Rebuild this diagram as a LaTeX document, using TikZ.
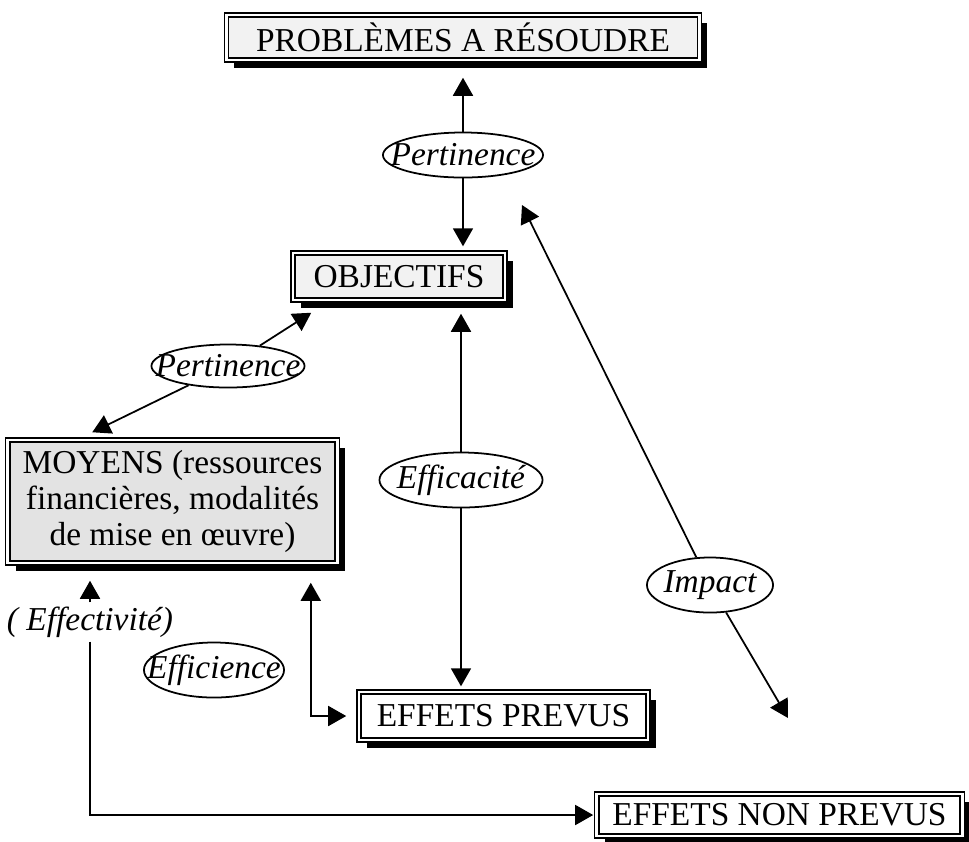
\documentclass[tikz,border=0pt]{standalone}
\usepackage{fontspec}
\setmainfont{Liberation Serif}
\usetikzlibrary{shapes.geometric,shadows,arrows.meta}
\newcommand\diagfont{\fontsize{9.5}{10.3}\selectfont}
\begin{document}
\begin{tikzpicture}[x=0.01cm,y=-0.01cm,font=\diagfont]
  \tikzstyle{box}=[draw,double,double distance=0.8pt,line width=0.4pt,fill=gray!10,inner sep=0pt,general shadow={fill=black,shadow xshift=2.2pt,shadow yshift=-2.2pt}];
  \tikzstyle{crit}=[draw,ellipse,fill=white,line width=0.5pt,inner sep=0pt];
  \tikzstyle{lbl}=[font=\diagfont\itshape,inner sep=0pt];
  \tikzstyle{arr}=[-{Triangle[length=0.18cm,width=0.2cm]},line width=0.5pt];
  \useasboundingbox (0,0) rectangle (969,841);
  % boxes
  \node[box,minimum width=4.73cm,minimum height=0.45cm] (prob) at (463,37.5) {PROBLÈMES A RÉSOUDRE};
  \node[box,minimum width=2.12cm,minimum height=0.47cm] (obj) at (399,276.5) {OBJECTIFS};
  \node[box,fill=gray!22,align=center,minimum width=3.29cm,minimum height=1.23cm] (moy) at (172.5,501.5) {MOYENS (ressources\\financières, modalités\\de mise en œuvre)};
  \node[box,fill=white,minimum width=2.89cm,minimum height=0.48cm] (prev) at (503.5,716) {EFFETS PREVUS};
  \node[box,fill=white,minimum width=3.65cm,minimum height=0.42cm] (nonprev) at (779.5,815) {EFFETS NON PREVUS};
  % criteres
  \node[crit,minimum width=1.6cm,minimum height=0.45cm,label={[lbl]center:Pertinence}] (pert1) at (463,155) {};
  \node[crit,minimum width=1.53cm,minimum height=0.43cm,label={[lbl]center:Pertinence}] (pert2) at (228,366) {};
  \node[crit,minimum width=1.63cm,minimum height=0.55cm,label={[lbl]center:Efficacité}] (effic) at (461,480) {};
  \node[crit,minimum width=1.4cm,minimum height=0.55cm,label={[lbl]center:Efficience}] (effi) at (214,670) {};
  \node[crit,minimum width=1.26cm,minimum height=0.55cm,label={[lbl]center:Impact}] (impact) at (710,585) {};
  \node[lbl,inner sep=1pt] (eff) at (90,622) {( Effectivité)};
  \coordinate (impA) at (522,205);
  \coordinate (impB) at (788,718);
  % liens
  \draw[arr,shorten >=0.17cm] (pert1) -- (prob);
  \draw[arr,shorten >=0.06cm] (pert1) -- (pert1 |- obj.north);
  \draw[arr] (pert2) -- ([xshift=0.19cm,yshift=-0.12cm]obj.south west);
  \draw[arr] (pert2) -- ([xshift=0.85cm,yshift=0.07cm]moy.north west);
  \draw[arr,shorten >=0.13cm] (effic) -- (effic |- obj.south);
  \draw[arr,shorten >=0.05cm] (effic) -- (effic |- prev.north);
  \draw[arr] (impact) -- (impA);
  \draw[arr] (impact) -- (impB);
  \draw[{Triangle[length=0.18cm,width=0.2cm]}-{Triangle[length=0.18cm,width=0.2cm]},line width=0.5pt,shorten >=0.12cm] ([xshift=-0.27cm,yshift=-0.19cm]moy.south east) |- (prev.west);
  \draw[arr,shorten >=0.17cm] (eff) -- (eff |- moy.south);
  \draw[arr,shorten >=0.03cm] (eff) |- (nonprev.west);
\end{tikzpicture}
\end{document}
